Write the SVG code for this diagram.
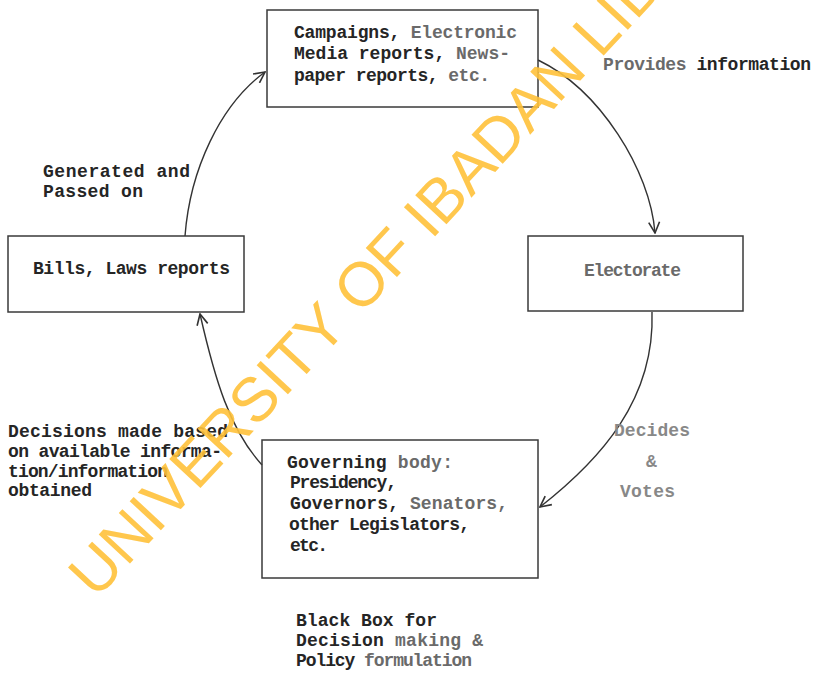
<svg xmlns="http://www.w3.org/2000/svg" width="819" height="673" viewBox="0 0 819 673">
<style>
.box{fill:none;stroke:#3a3a3a;stroke-width:1.5}
.t{font-family:"Liberation Mono","DejaVu Sans Mono",monospace;font-weight:bold;font-size:18px;fill:#252525}
.f{fill:#6a6a6a}
.lf{fill:#888}
.c{fill:none;stroke:#333;stroke-width:1.4}
.wm{font-family:"Liberation Sans",Arial,sans-serif;font-size:62px;fill:#FFC23A;opacity:0.9}
</style>
<defs>
<marker id="ah" viewBox="0 0 12 12" refX="11" refY="6" markerWidth="13" markerHeight="13" markerUnits="userSpaceOnUse" orient="auto">
<path d="M1,1 L11,6 L1,11" fill="none" stroke="#333" stroke-width="1.5"/>
</marker>
</defs>
<rect width="819" height="673" fill="#fff"/>

<g id="connectors">
<path class="c" d="M185,236 C190,170 220,105 265,72" marker-end="url(#ah)"/>
<path class="c" d="M538,60 C600,90 650,170 655,233" marker-end="url(#ah)"/>
<path class="c" d="M652,312 C655,400 600,460 540,507" marker-end="url(#ah)"/>
<path class="c" d="M262,465 C230,430 215,380 200,314" marker-end="url(#ah)"/>
</g>

<g id="campaigns">
<rect class="box" x="267" y="10" width="271" height="97"/>
<text class="t" x="294" y="38" textLength="223" lengthAdjust="spacing">Campaigns, <tspan class="f">Electronic</tspan></text>
<text class="t" x="294" y="59" textLength="216" lengthAdjust="spacing">Media reports, <tspan class="f">News-</tspan></text>
<text class="t" x="294" y="81" textLength="196" lengthAdjust="spacing">paper reports, <tspan class="f">etc.</tspan></text>
</g>

<g id="bills">
<rect class="box" x="8" y="236" width="236" height="76"/>
<text class="t" x="33" y="274" textLength="197" lengthAdjust="spacing">Bills, Laws reports</text>
</g>

<g id="electorate">
<rect class="box" x="528" y="236" width="215" height="75"/>
<text class="t f" x="584" y="276" textLength="97" lengthAdjust="spacing">Electorate</text>
</g>

<g id="governing">
<rect class="box" x="262" y="440" width="276" height="138"/>
<text class="t" x="287" y="468" textLength="166" lengthAdjust="spacing">Governing <tspan class="f">body:</tspan></text>
<text class="t" x="290" y="488" textLength="107" lengthAdjust="spacing">Presidency,</text>
<text class="t" x="290" y="509" textLength="218" lengthAdjust="spacing">Governors, <tspan class="f">Senators,</tspan></text>
<text class="t" x="289" y="530" textLength="181" lengthAdjust="spacing">other Legislators,</text>
<text class="t" x="290" y="551" textLength="38" lengthAdjust="spacing">etc.</text>
</g>

<g id="labels">
<text class="t" x="603" y="70" textLength="208" lengthAdjust="spacing"><tspan class="f">Provides</tspan> information</text>
<text class="t" x="43" y="177" textLength="147" lengthAdjust="spacing">Generated and</text>
<text class="t" x="43" y="197" textLength="100" lengthAdjust="spacing">Passed on</text>
<text class="t" x="8" y="437" textLength="220" lengthAdjust="spacing">Decisions made based</text>
<text class="t" x="8" y="457" textLength="214" lengthAdjust="spacing">on available informa-</text>
<text class="t" x="8" y="477" textLength="160" lengthAdjust="spacing">tion/information</text>
<text class="t" x="8" y="496" textLength="84" lengthAdjust="spacing">obtained</text>
<text class="t lf" x="614" y="436" textLength="76" lengthAdjust="spacing">Decides</text>
<text class="t lf" x="646" y="467">&amp;</text>
<text class="t lf" x="620" y="497" textLength="55" lengthAdjust="spacing">Votes</text>
<text class="t" x="296" y="626" textLength="141" lengthAdjust="spacing">Black Box for</text>
<text class="t" x="296" y="646" textLength="187" lengthAdjust="spacing">Decision <tspan class="f">making &amp;</tspan></text>
<text class="t" x="296" y="666" textLength="176" lengthAdjust="spacing">Policy <tspan class="f">formulation</tspan></text>
</g>

<text class="wm" transform="translate(96,600) rotate(-47)">UNIVERSITY OF IBADAN LIB</text>
</svg>
